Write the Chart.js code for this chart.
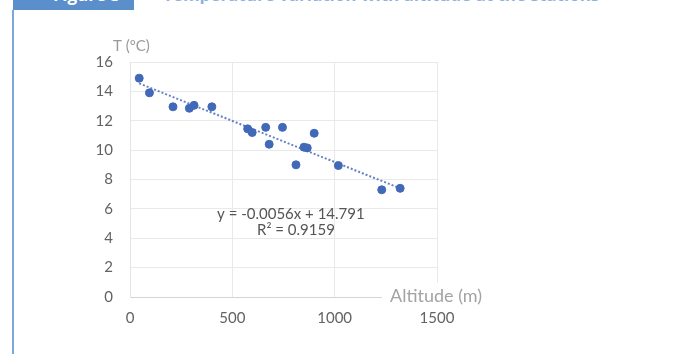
<!DOCTYPE html>
<html>
<head>
<meta charset="utf-8">
<script src="https://cdn.jsdelivr.net/npm/chart.js@4.4.1/dist/chart.umd.min.js"></script>
<style>
    body { margin: 0; background: #fff; overflow: hidden; }
    #wrap { position: relative; width: 692px; height: 354px; overflow: hidden; }
    #banner { position: absolute; left: 13px; top: 0; width: 121px; height: 10px; background: #5b8fcb; overflow: hidden; }
    #bannerbox { position: absolute; left: 40px; top: 0; width: 70px; height: 6px; overflow: hidden; }
    #bannerbox span { position: absolute; left: 0; top: -17px; color: #fff; font: bold 17px "Open Sans", sans-serif; }
    #titlebox { position: absolute; left: 163px; top: 0; width: 460px; height: 4px; overflow: hidden; }
    #title { position: absolute; left: 0; top: -17px; color: #8cb2e2; font: bold 17px "Open Sans", sans-serif; white-space: nowrap; }
    #edge { position: absolute; left: 12px; top: 10px; width: 2px; height: 344px; background: #7ba7dd; }
    #chart { position: absolute; left: 0; top: 0; }
</style>
</head>
<body>
<div id="wrap">
    <div id="banner"><div id="bannerbox"><span>Figure 3</span></div></div>
    <div id="titlebox"><div id="title">Temperature variation with altitude at the stations</div></div>
    <div id="edge"></div>
    <canvas id="chart" width="692" height="354"></canvas>
</div>
<script>
// altitude (m) and temperature (°C) of each station
const altitude = [45, 95, 210, 290, 313, 400, 575, 597, 663, 680, 745, 811, 850, 866, 900, 1018, 1230, 1320];
const temperature = [14.9, 13.9, 12.95, 12.85, 13.05, 12.95, 11.45, 11.2, 11.55, 10.4, 11.55, 9.0, 10.2, 10.15, 11.15, 8.95, 7.3, 7.4];

// linear trendline end points
const trendX = [45, 1330];
const trendY = [14.54, 7.34];

const xTicks = [0, 500, 1000, 1500];
const yTicks = [0, 2, 4, 6, 8, 10, 12, 14, 16];

const equationText = "y = -0.0056x + 14.791";
const r2Text = "R\u00b2 = 0.9159";
const xTitle = "Altitude (m)";
const yTitle = "T (\u00baC)";

const font = "Lato, 'Open Sans', sans-serif";

// draws axis titles and trendline equation, Excel style
const labelsPlugin = {
    id: "labels",
    afterDraw(chart) {
        const ctx = chart.ctx;
        const x = chart.scales.x;
        const y = chart.scales.y;
        const area = chart.chartArea;
        ctx.save();

        // x axis title sits at the end of the axis line, with a white box
        ctx.font = "18px " + font;
        const w = ctx.measureText(xTitle).width;
        ctx.fillStyle = "#fff";
        ctx.fillRect(area.right - 55, area.bottom - 14, w + 14, 28);
        ctx.fillStyle = "#a3a3a3";
        ctx.textAlign = "left";
        ctx.textBaseline = "middle";
        ctx.fillText(xTitle, area.right - 47, area.bottom - 1);

        // y axis title above the axis
        ctx.font = "15px " + font;
        ctx.fillStyle = "#9a9a9a";
        ctx.fillText(yTitle, area.left - 17, area.top - 16);

        // trendline equation
        ctx.font = "15px " + font;
        ctx.fillStyle = "#555";
        ctx.textAlign = "center";
        ctx.fillText(equationText, x.getPixelForValue(786), y.getPixelForValue(5.65));
        ctx.fillText(r2Text, x.getPixelForValue(811), y.getPixelForValue(4.55));
        ctx.restore();
    }
};

new Chart(document.getElementById("chart"), {
    type: "scatter",
    data: {
        datasets: [
            {
                label: "T",
                data: altitude.map((a, i) => ({ x: a, y: temperature[i] })),
                backgroundColor: "#4169b8",
                borderColor: "#4169b8",
                pointRadius: 4,
                pointHoverRadius: 4,
                order: 1
            },
            {
                type: "line",
                label: "trend",
                data: trendX.map((a, i) => ({ x: a, y: trendY[i] })),
                borderColor: "#6482c4",
                borderWidth: 2,
                borderDash: [2, 2],
                pointRadius: 0,
                fill: false,
                order: 2
            }
        ]
    },
    options: {
        responsive: false,
        animation: false,
        layout: { padding: { left: 80, right: 255, top: 62, bottom: 27 } },
        plugins: {
            legend: { display: false },
            tooltip: { enabled: false }
        },
        scales: {
            x: {
                type: "linear",
                min: 0,
                max: 1500,
                afterBuildTicks: s => { s.ticks = xTicks.map(v => ({ value: v })); },
                afterFit: s => { s.height = 30; },
                grid: { color: "#e9e9e9", drawTicks: false },
                border: { color: "#d4d4d4" },
                ticks: { padding: 12, color: "#636363", font: { family: font, size: 15 }, callback: v => String(v) }
            },
            y: {
                min: 0,
                max: 16,
                afterBuildTicks: s => { s.ticks = yTicks.map(v => ({ value: v })); },
                afterFit: s => { s.width = 50; },
                grid: { color: "#e9e9e9", drawTicks: false },
                border: { color: "#e4e4e4" },
                ticks: { padding: 17, color: "#636363", font: { family: font, size: 15 } }
            }
        }
    },
    plugins: [labelsPlugin]
});
</script>
</body>
</html>
